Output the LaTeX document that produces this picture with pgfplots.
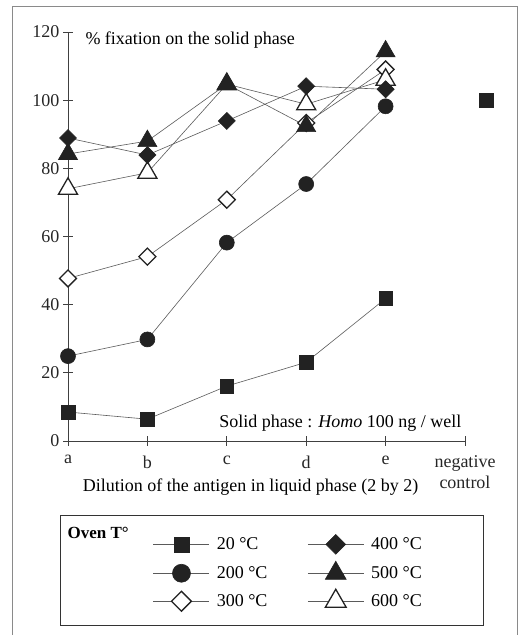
\documentclass[border=0pt]{standalone}
\usepackage{fontspec}
\setmainfont{Liberation Serif}
\usepackage{pgfplots}
\pgfplotsset{compat=1.18}
\definecolor{ln}{HTML}{5A5A5A}
\definecolor{mk}{HTML}{222222}
\definecolor{fr}{HTML}{8A8A8A}
\begin{document}
\begin{tikzpicture}[x=1pt,y=1pt,font=\fontsize{18}{21}\selectfont]
\useasboundingbox (0,0) rectangle (520,635);
\draw[fr, line width=0.8pt] (12,0) -- (12,629) -- (517,629) -- (517,0);
\draw[black!80, line width=0.8pt] (60,120) rectangle (483,10);
\node[anchor=west, font=\fontsize{17}{20}\selectfont\bfseries] at (64,102) {Oven T°};
\begin{axis}[
  at={(68pt,194pt)}, anchor=south west,
  scale only axis, width=397pt, height=409pt,
  xmin=0, xmax=5, ymin=0, ymax=120,
  axis x line*=bottom, axis y line*=left,
  axis line style={black!75, line width=0.8pt},
  tick style={black!75, line width=0.8pt},
  tick align=center, major tick length=10pt,
  ytick={0,20,...,120},
  xtick={0,1,2,3,4,5},
  xticklabels={a,b,c,d,e,{negative\\control}},
  xticklabel style={align=center, text=black!85, yshift=-6pt},
  yticklabel style={text=black!85},
  /pgf/number format/assume math mode=true,
  tick label style={font=\fontsize{18}{21}\selectfont},
  clip=false,
  legend columns=2,
  legend cell align=left,
  legend style={at={(0.214,-0.228)}, anchor=north west, draw=none, fill=none,
    inner sep=0pt, row sep=7pt, font=\fontsize{18}{21}\selectfont,
    /tikz/every odd column/.append style={column sep=5pt},
    /tikz/every even column/.append style={column sep=38pt}},
  legend image code/.code={\draw[mark repeat=2,mark phase=2,#1] plot coordinates {(0pt,0pt) (28pt,0pt) (56pt,0pt)};},
]
% legend entries (row-wise fill: 20,400 / 200,500 / 300,600)
\addlegendimage{ln, line width=0.6pt, mark=square*, mark size=7.5pt, mark options={draw=mk, fill=mk}}
\addlegendentry{20 °C}
\addlegendimage{ln, line width=0.6pt, mark=square*, mark size=7pt, mark options={draw=mk, fill=mk, rotate=45}}
\addlegendentry{400 °C}
\addlegendimage{ln, line width=0.6pt, mark=*, mark size=9pt, mark options={draw=mk, fill=mk}}
\addlegendentry{200 °C}
\addlegendimage{ln, line width=0.6pt, mark=triangle*, mark size=12pt, mark options={draw=mk, fill=mk}}
\addlegendentry{500 °C}
\addlegendimage{ln, line width=0.6pt, mark=square*, mark size=7pt, mark options={draw=mk, fill=white, line width=1.3pt, rotate=45}}
\addlegendentry{300 °C}
\addlegendimage{ln, line width=0.6pt, mark=triangle*, mark size=12pt, mark options={draw=mk, fill=white, line width=1.3pt}}
\addlegendentry{600 °C}
% 20 C
\addplot[forget plot, ln, line width=0.6pt, mark=square*, mark size=6.8pt, mark options={draw=mk, fill=mk}]
  coordinates {(0,8.5)(1,6.4)(2,16.1)(3,23.1)(4,41.8)};
% 200 C
\addplot[forget plot, ln, line width=0.6pt, mark=*, mark size=7.5pt, mark options={draw=mk, fill=mk}]
  coordinates {(0,24.9)(1,29.8)(2,58.2)(3,75.4)(4,98.2)};
% 300 C
\addplot[forget plot, ln, line width=0.6pt, mark=square*, mark size=6pt, mark options={draw=mk, fill=white, line width=1.3pt, rotate=45}]
  coordinates {(0,47.7)(1,54.1)(2,70.8)(3,93.3)(4,109.0)};
% 600 C
\addplot[forget plot, ln, line width=0.6pt, mark=triangle*, mark size=11pt, mark options={draw=mk, fill=white, line width=1.3pt}]
  coordinates {(0,74.0)(1,78.7)(2,104.7)(3,98.8)(4,106.0)};
% 400 C
\addplot[forget plot, ln, line width=0.6pt, mark=square*, mark size=6pt, mark options={draw=mk, fill=mk, rotate=45}]
  coordinates {(0,88.9)(1,83.9)(2,93.9)(3,104.1)(4,103.2)};
% 500 C
\addplot[forget plot, ln, line width=0.6pt, mark=triangle*, mark size=11pt, mark options={draw=mk, fill=mk}]
  coordinates {(0,84.2)(1,88.0)(2,104.7)(3,92.4)(4,114.3)};
% negative control
\addplot[only marks, forget plot, mark=square*, mark size=6.8pt, mark options={draw=mk, fill=mk}]
  coordinates {(5.27,100)};
\node[anchor=west] at (axis cs:0.176,117.6) {\% fixation on the solid phase};
\node[anchor=east] at (axis cs:5,5.3) {Solid phase : \textit{Homo} 100 ng / well};
\node at (axis cs:2.30,-13.4) {Dilution of the antigen in liquid phase (2 by 2)};
\end{axis}
\end{tikzpicture}
\end{document}
